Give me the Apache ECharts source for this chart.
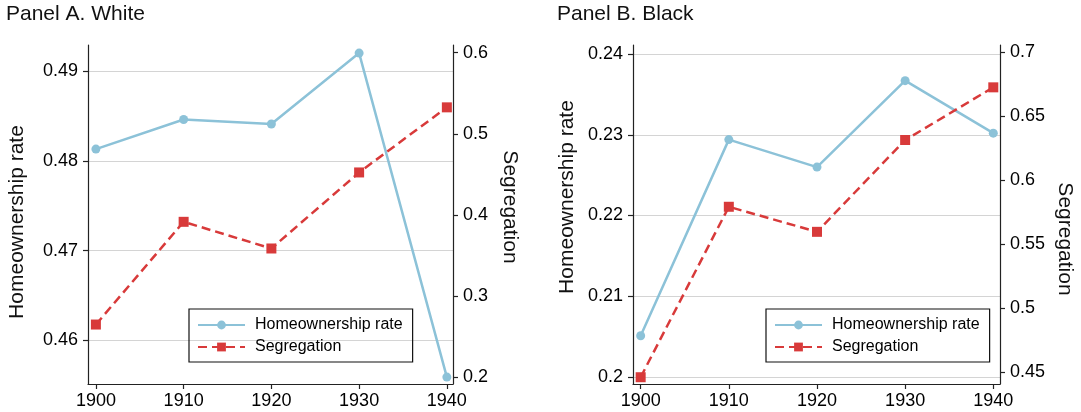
<!DOCTYPE html>
<html>
<head>
<meta charset="utf-8">
<script src="https://cdn.jsdelivr.net/npm/echarts@6/dist/echarts.min.js"></script>
<style>
html,body{margin:0;padding:0;background:#fff;}
#chart{width:1081px;height:412px;}
</style>
</head>
<body>
<div id="chart"></div>
<script>
const years = [1900, 1910, 1920, 1930, 1940];
const whiteHome = [0.4813, 0.4846, 0.4841, 0.4920, 0.4559];
const whiteSeg = [0.2647, 0.3914, 0.3585, 0.4523, 0.5326];
const blackHome = [0.2051, 0.2294, 0.2260, 0.2367, 0.2302];
const blackSeg = [0.4459, 0.5792, 0.5596, 0.6314, 0.6726];
const yearTicks = [1900, 1910, 1920, 1930, 1940];
const whiteHomeTicks = [0.46, 0.47, 0.48, 0.49];
const whiteSegTicks = [0.2, 0.3, 0.4, 0.5, 0.6];
const blackHomeTicks = [0.2, 0.21, 0.22, 0.23, 0.24];
const blackSegTicks = [0.45, 0.5, 0.55, 0.6, 0.65, 0.7];
const panelTitles = ['Panel A. White', 'Panel B. Black'];
const seriesNames = ['Homeownership rate', 'Segregation'];

const FONT = "'Liberation Sans', Arial, Helvetica, sans-serif";
const BLUE = '#8cc2d8';
const RED = '#d83a3a';
const AXIS = '#222';
const GRID = '#d4d4d4';

const pair = (xs, ys) => xs.map((x, i) => [x, ys[i]]);
const numFmt = v => String(parseFloat(Number(v).toFixed(4)));

function xAxis(gridIndex, min, max) {
  return {
    type: 'value', gridIndex, min, max,
    axisLine: { show: true, onZero: false, lineStyle: { color: AXIS, width: 1.2 } },
    axisTick: { show: true, length: 5, customValues: yearTicks, lineStyle: { color: AXIS, width: 1.2 } },
    axisLabel: { customValues: yearTicks, margin: 8, color: '#000', fontSize: 18, fontFamily: FONT, formatter: v => String(Math.round(v)) },
    splitLine: { show: false }
  };
}
function yAxis(gridIndex, position, min, max, ticks, grid) {
  return {
    type: 'value', gridIndex, position, min, max,
    axisLine: { show: true, onZero: false, lineStyle: { color: AXIS, width: 1.2 } },
    axisTick: { show: true, length: 5, customValues: ticks, lineStyle: { color: AXIS, width: 1.2 } },
    axisLabel: { customValues: ticks, margin: 10, color: '#000', fontSize: 18, fontFamily: FONT, formatter: numFmt },
    splitLine: { show: grid, lineStyle: { color: GRID, width: 1.2 } }
  };
}
function homeSeries(xi, yi, data) {
  return {
    name: seriesNames[0], type: 'line', xAxisIndex: xi, yAxisIndex: yi,
    data: pair(years, data), symbol: 'circle', symbolSize: 9,
    lineStyle: { color: BLUE, width: 2.5 }, itemStyle: { color: BLUE }, z: 3
  };
}
function segSeries(xi, yi, data) {
  return {
    name: seriesNames[1], type: 'line', xAxisIndex: xi, yAxisIndex: yi,
    data: pair(years, data), symbol: 'rect', symbolSize: 10,
    lineStyle: { color: RED, width: 2.5, type: [9, 5] }, itemStyle: { color: RED }, z: 4
  };
}
function legend(left) {
  return {
    orient: 'vertical', left, top: 309, data: seriesNames,
    borderColor: '#111', borderWidth: 1.2, borderRadius: 0,
    padding: [8, 10, 7, 8], itemGap: 6, itemWidth: 47, itemHeight: 11,
    textStyle: { fontSize: 16, fontFamily: FONT, color: '#000', lineHeight: 16, padding: [0, 0, 0, 5] },
    selectedMode: false
  };
}
function txt(x, y, text, size, rot, align) {
  return {
    type: 'text', x, y, rotation: rot,
    style: { text, fontSize: size, fontFamily: FONT, fill: '#111', align: align || 'center', verticalAlign: 'middle' }
  };
}

const chart = echarts.init(document.getElementById('chart'));
chart.setOption({
  backgroundColor: '#fff',
  animation: false,
  grid: [
    { left: 88, top: 45, width: 365, height: 339 },
    { left: 633, top: 45, width: 367, height: 339 }
  ],
  xAxis: [xAxis(0, 1899.1, 1940.7), xAxis(1, 1899.13, 1940.76)],
  yAxis: [
    yAxis(0, 'left', 0.45513, 0.4929, whiteHomeTicks, true),
    yAxis(0, 'right', 0.19136, 0.6095, whiteSegTicks, false),
    yAxis(1, 'left', 0.19913, 0.24112, blackHomeTicks, true),
    yAxis(1, 'right', 0.4406, 0.70571, blackSegTicks, false)
  ],
  legend: [legend(189), legend(766)],
  series: [
    homeSeries(0, 0, whiteHome),
    segSeries(0, 1, whiteSeg),
    homeSeries(1, 2, blackHome),
    segSeries(1, 3, blackSeg)
  ],
  graphic: [
    txt(6, 14, panelTitles[0], 21, 0, 'left'),
    txt(557, 14, panelTitles[1], 21, 0, 'left'),
    txt(17, 222, seriesNames[0], 21, Math.PI / 2),
    txt(510, 207, seriesNames[1], 21, -Math.PI / 2),
    txt(567, 197, seriesNames[0], 21, Math.PI / 2),
    txt(1065, 239, seriesNames[1], 21, -Math.PI / 2)
  ]
});
</script>
</body>
</html>
